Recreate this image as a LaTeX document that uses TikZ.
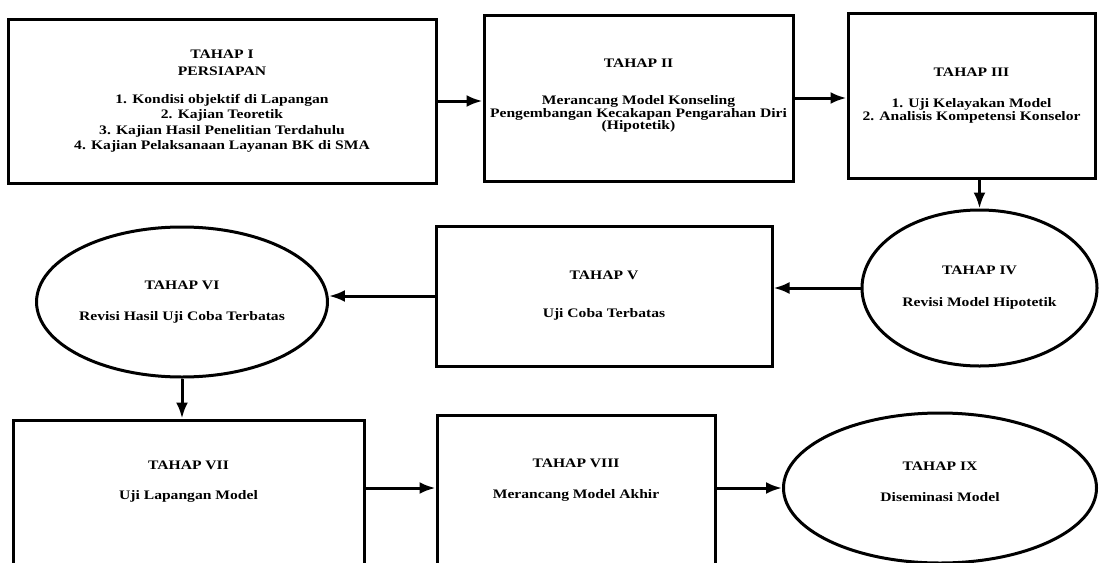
\documentclass[tikz,border=0pt]{standalone}
\usepackage{fontspec}
\setmainfont{Liberation Serif}[FakeStretch=1.2]
\usetikzlibrary{arrows.meta,shapes.geometric}

\begin{document}
\begin{tikzpicture}[x=1pt,y=-1pt,
  stage/.style={draw,line width=3pt,rectangle,inner sep=0pt,align=center,
    font=\fontsize{13}{15.5}\selectfont\bfseries},
  tight/.style={font=\fontsize{13}{11.5}\selectfont\bfseries},
  oval/.style={stage,ellipse},
  arr/.style={line width=3pt,-{Latex[length=16pt,width=12pt]}}]
\useasboundingbox (0,0) rectangle (1099,562);

% baris atas
\node[stage,minimum width=428,minimum height=164] (t1) at (222,101)
  {TAHAP I\\[1.5pt]PERSIAPAN\\[12.5pt]1. Kondisi objektif di Lapangan\\2. Kajian Teoretik\\3. Kajian Hasil Penelitian Terdahulu\\4. Kajian Pelaksanaan Layanan BK di SMA};
\node[stage,tight,minimum width=309,minimum height=166] (t2) at (638.5,98)
  {TAHAP II\\[25.5pt]Merancang Model Konseling\\Pengembangan Kecakapan Pengarahan Diri\\(Hipotetik)\\[-4pt]\mbox{}};
\node[stage,tight,minimum width=247,minimum height=165] (t3) at (971.5,95.5)
  {TAHAP III\\[19.5pt]1. Uji Kelayakan Model\\2. Analisis Kompetensi Konselor};

% baris tengah
\node[oval,minimum width=235,minimum height=156] (t4) at (979.5,288)
  {TAHAP IV\\[16.5pt]Revisi Model Hipotetik};
\node[stage,minimum width=336,minimum height=140] (t5) at (604,296)
  {TAHAP V\\[22.5pt]Uji Coba Terbatas};
\node[oval,minimum width=245,minimum height=150] (t6) at (182,302)
  {TAHAP VI\\[15.5pt]Revisi Hasil Uji Coba Terbatas};

% baris bawah
\node[stage,minimum width=351,minimum height=160] (t7) at (188.5,500)
  {TAHAP VII\\[14.5pt]Uji Lapangan Model\\[25pt]\mbox{}};
\node[stage,minimum width=278,minimum height=160] (t8) at (576,495)
  {TAHAP VIII\\[15.5pt]Merancang Model Akhir\\[17pt]\mbox{}};
\node[oval,minimum width=313,minimum height=150] (t9) at (940,488)
  {TAHAP IX\\[15.5pt]Diseminasi Model\\[-3pt]\mbox{}};

\draw[arr] (t1.east) -- (t1.east -| t2.west);
\draw[arr] (t2.east) -- (t2.east -| t3.west);
\draw[arr] (t4.north |- t3.south) -- (t4.north);
\draw[arr] (t4.west) -- (t4.west -| t5.east);
\draw[arr] (t5.west) -- (t5.west -| t6.east);
\draw[arr] (t6.south) -- (t6.south |- t7.north);
\draw[arr] (t7.east |- t9.west) -- (t8.west |- t9.west);
\draw[arr] (t8.east |- t9.west) -- (t9.west);
\end{tikzpicture}
\end{document}
